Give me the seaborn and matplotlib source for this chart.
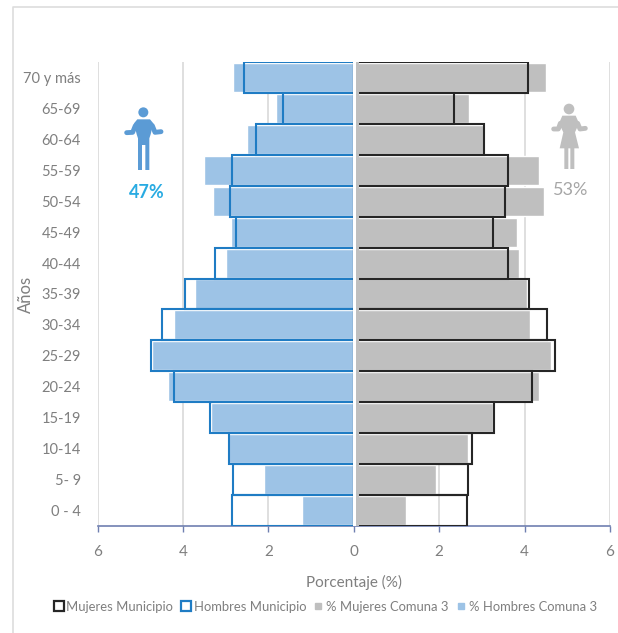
import matplotlib
matplotlib.use("Agg")
import matplotlib.pyplot as plt
import pandas as pd
import seaborn as sns
from matplotlib.lines import Line2D
from matplotlib.patches import Circle, Polygon

grupos = ["70 y más", "65-69", "60-64", "55-59", "50-54", "45-49", "40-44", "35-39",
          "30-34", "25-29", "20-24", "15-19", "10-14", "5- 9", "0 - 4"]
mujeres_municipio = [4.09, 2.35, 3.05, 3.61, 3.55, 3.27, 3.61, 4.10,
                     4.52, 4.72, 4.18, 3.28, 2.77, 2.68, 2.66]
hombres_municipio = [2.58, 1.66, 2.30, 2.86, 2.89, 2.76, 3.25, 3.94,
                     4.50, 4.75, 4.22, 3.36, 2.92, 2.83, 2.84]
mujeres_comuna = [4.50, 2.70, 3.04, 4.34, 4.45, 3.82, 3.87, 4.05,
                  4.12, 4.63, 4.33, 3.26, 2.68, 1.92, 1.22]
hombres_comuna = [2.82, 1.83, 2.49, 3.50, 3.30, 2.87, 3.00, 3.72,
                  4.20, 4.72, 4.34, 3.34, 2.95, 2.10, 1.22]
ticks = [-6, -4, -2, 0, 2, 4, 6]

AZUL = "#9DC3E6"
GRIS = "#BFBFBF"
AZUL_BORDE = "#1F7CC4"
NEGRO = "#262626"
TEXTO = "#7F7F7F"

sns.set_theme(style="white")
plt.rcParams["font.family"] = ["Lato", "DejaVu Sans"]

df = pd.DataFrame({
    "grupo": grupos,
    "muj_mun": mujeres_municipio,
    "hom_mun": [-v for v in hombres_municipio],
    "muj_com": mujeres_comuna,
    "hom_com": [-v for v in hombres_comuna],
})

W, H = 618, 633
fig = plt.figure(figsize=(W / 100, H / 100), dpi=100)
ax = fig.add_axes([97.5 / W, 1 - 526 / H, 512.5 / W, 464 / H])

# Step 1: fills, then outlines on top
sns.barplot(data=df, y="grupo", x="hom_com", order=grupos, color=AZUL, saturation=1,
            width=0.94, orient="h", ax=ax, zorder=2)
sns.barplot(data=df, y="grupo", x="muj_com", order=grupos, color=GRIS, saturation=1,
            width=0.94, orient="h", ax=ax, zorder=2)
sns.barplot(data=df, y="grupo", x="hom_mun", order=grupos, color=AZUL_BORDE, fill=False,
            width=1, linewidth=1.5, orient="h", ax=ax, zorder=3)
sns.barplot(data=df, y="grupo", x="muj_mun", order=grupos, color=NEGRO, fill=False,
            width=1, linewidth=1.5, orient="h", ax=ax, zorder=3)

# the black outlines stop short of the centre, with a white gap between the halves
ax.axvspan(0.03, 0.12, color=GRIS, lw=0, zorder=4)
ax.axvspan(-0.015, 0.05, color="white", lw=0, zorder=5)

ax.set_xlim(-6, 6)
ax.set_ylim(14.5, -0.5)
ax.set_xticks(ticks)
ax.set_xticklabels([str(abs(t)) for t in ticks])
ax.xaxis.grid(True, color="#D9D9D9", lw=1.2)
ax.set_axisbelow(True)
ax.tick_params(axis="x", length=4, width=1, color="#6F7FB0", labelsize=11,
               labelcolor=TEXTO, pad=10, bottom=True)
ax.tick_params(axis="y", length=0, labelsize=10.5, labelcolor=TEXTO, pad=12)
sns.despine(ax=ax, left=True)
ax.spines["bottom"].set_color("#6F7FB0")
ax.spines["bottom"].set_linewidth(1.2)
ax.spines["bottom"].set_zorder(2.5)
ax.set_xlabel("Porcentaje (%)", fontsize=11, color=TEXTO, labelpad=11)
ax.set_ylabel("")
fig.text(26 / W, 1 - 294 / H, "Años", rotation=90, ha="center", va="center",
         fontsize=12, color=TEXTO)

# Step 2: legend
handles = [
    Line2D([], [], ls="", marker="s", ms=6.5, mfc="white", mec=NEGRO, mew=1.6),
    Line2D([], [], ls="", marker="s", ms=6.5, mfc="white", mec=AZUL_BORDE, mew=1.6),
    Line2D([], [], ls="", marker="s", ms=5, color=GRIS),
    Line2D([], [], ls="", marker="s", ms=5, color=AZUL),
]
etiquetas = ["Mujeres Municipio", "Hombres Municipio", "% Mujeres Comuna 3", "% Hombres Comuna 3"]
fig.legend(handles, etiquetas, loc="center", bbox_to_anchor=(324 / W, 1 - 607 / H), ncol=4,
           frameon=False, fontsize=9.4, labelcolor=TEXTO, handletextpad=0.0,
           columnspacing=0.35, handlelength=1.2, borderpad=0)

# Step 3: frame and pictograms on an overlay in pixel coordinates
capa = fig.add_axes([0, 0, 1, 1], facecolor="none")
capa.set_xlim(0, W)
capa.set_ylim(H, 0)
capa.axis("off")
capa.plot([12.5, 12.5, W], [H, 7, 7], color="#DDDDDD", lw=1.2)


def persona(ox, oy, color, cabeza, cuerpo, brazos):
    pts = lambda seq: [(ox + x / 3, oy + y / 3) for x, y in seq]
    capa.add_patch(Circle(pts([cabeza[:2]])[0], cabeza[2] / 3, color=color, lw=0))
    capa.add_patch(Polygon(pts(cuerpo), closed=True, color=color, lw=0))
    for brazo in brazos:
        xs, ys = zip(*pts(brazo))
        capa.plot(xs, ys, color=color, lw=3.5, solid_capstyle="round", solid_joinstyle="round")


persona(110, 95, "#5B9BD5", (100, 52, 15),
        [(82, 73), (120, 73), (130, 85), (122, 118), (118, 130), (118, 225), (106, 225),
         (106, 150), (96, 150), (96, 225), (84, 225), (84, 130), (80, 118), (72, 85)],
        [[(76, 92), (68, 112), (50, 113)], [(127, 92), (135, 112), (153, 110)]])
persona(535, 95, "#BFBFBF", (102, 42, 16),
        [(82, 62), (122, 62), (132, 85), (120, 112), (132, 160), (118, 160), (118, 222),
         (106, 222), (106, 160), (100, 160), (100, 222), (88, 222), (88, 160), (74, 160),
         (85, 112), (72, 85)],
        [[(76, 85), (70, 102), (56, 102)], [(128, 85), (135, 102), (151, 100)]])

capa.text(146.5, 192, "47%", color="#29ABE2", fontsize=13, fontweight="bold", ha="center", va="center")
capa.text(571, 190, "53%", color="#A6A6A6", fontsize=13, ha="center", va="center")

fig.savefig("out.png", dpi=100, facecolor="white")
